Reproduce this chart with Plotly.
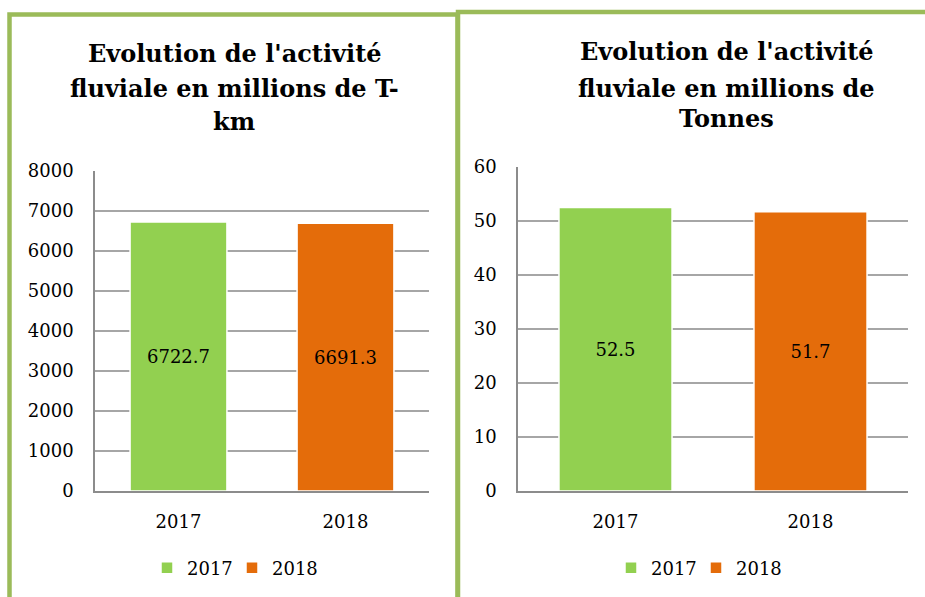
import plotly.graph_objects as go

# ---- data ----
categories = ["2017", "2018"]
tkm_values = [6722.7, 6691.3]
tonnes_values = [52.5, 51.7]
tkm_labels = ["6722.7", "6691.3"]
tonnes_labels = ["52.5", "51.7"]
bar_colors = ["#92D050", "#E46C0A"]
left_title_lines = ["Evolution de l'activité", "fluviale en millions de T-", "km"]
right_title_lines = ["Evolution de l'activité", "fluviale en millions de", "Tonnes"]
left_ticks = [0, 1000, 2000, 3000, 4000, 5000, 6000, 7000, 8000]
right_ticks = [0, 10, 20, 30, 40, 50, 60]

W, H = 925, 597
def px(x):
    return x / W
def py(y):
    return 1 - y / H

SERIF = "DejaVu Serif"
GRID = "#A6A6A6"
AXIS = "#8C8C8C"
BORDER = "#9BBB59"

fig = go.Figure()

for i, cat in enumerate(categories):
    fig.add_trace(go.Bar(
        x=[cat], y=[tkm_values[i]], name=cat,
        marker=dict(color=bar_colors[i], line=dict(color="white", width=1.5)),
        width=0.58, text=[tkm_labels[i]], textposition="inside",
        insidetextanchor="middle", textangle=0,
        insidetextfont=dict(family=SERIF, size=18, color="black"),
        xaxis="x", yaxis="y", legend="legend", hoverinfo="skip",
    ))
for i, cat in enumerate(categories):
    fig.add_trace(go.Bar(
        x=[cat], y=[tonnes_values[i]], name=cat,
        marker=dict(color=bar_colors[i], line=dict(color="white", width=1.5)),
        width=0.58, text=[tonnes_labels[i]], textposition="inside",
        insidetextanchor="middle", textangle=0,
        insidetextfont=dict(family=SERIF, size=18, color="black"),
        xaxis="x2", yaxis="y2", legend="legend2", hoverinfo="skip",
    ))

xaxis_common = dict(
    type="category", showgrid=False, showline=True, linecolor=AXIS, linewidth=1.5,
    ticks="outside", ticklen=14, tickcolor="rgba(0,0,0,0)", automargin=False,
    tickfont=dict(family=SERIF, size=18, color="black"), fixedrange=True,
)
yaxis_common = dict(
    showgrid=True, gridcolor=GRID, gridwidth=1.5, showline=True, linecolor=AXIS,
    linewidth=1.5, zeroline=False, ticks="outside", ticklen=16,
    tickcolor="rgba(0,0,0,0)", automargin=False,
    tickfont=dict(family=SERIF, size=18, color="black"), fixedrange=True,
)

annotations = []
left_centers = [53, 88, 121]
right_centers = [51, 88, 118]
for line, yc in zip(left_title_lines, left_centers):
    annotations.append(dict(text="<b>" + line + "</b>", x=px(234), y=py(yc),
                            xref="paper", yref="paper", xanchor="center",
                            yanchor="middle", showarrow=False,
                            font=dict(family=SERIF, size=24, color="black")))
for line, yc in zip(right_title_lines, right_centers):
    annotations.append(dict(text="<b>" + line + "</b>", x=px(726), y=py(yc),
                            xref="paper", yref="paper", xanchor="center",
                            yanchor="middle", showarrow=False,
                            font=dict(family=SERIF, size=24, color="black")))

shapes = [
    dict(type="rect", xref="paper", yref="paper",
         x0=px(9.5), x1=px(457.5), y0=py(14.5), y1=py(640),
         line=dict(color=BORDER, width=4.5), fillcolor="rgba(0,0,0,0)", layer="above"),
    dict(type="rect", xref="paper", yref="paper",
         x0=px(458), x1=px(960), y0=py(12), y1=py(640),
         line=dict(color=BORDER, width=4.5), fillcolor="rgba(0,0,0,0)", layer="above"),
]

legend_common = dict(orientation="h", yanchor="middle", xanchor="center",
                     font=dict(family=SERIF, size=18, color="black"),
                     entrywidth=40, entrywidthmode="pixels",
                     bgcolor="rgba(0,0,0,0)", itemclick=False, itemdoubleclick=False)

fig.update_layout(
    width=W, height=H, margin=dict(l=0, r=0, t=0, b=0, autoexpand=False),
    paper_bgcolor="white", plot_bgcolor="white",
    barmode="overlay", showlegend=True,
    xaxis=dict(domain=[px(95), px(429)], anchor="y", **xaxis_common),
    yaxis=dict(domain=[py(491), py(171)], anchor="x", range=[0, 8000],
               tickvals=left_ticks, **yaxis_common),
    xaxis2=dict(domain=[px(518), px(908)], anchor="y2", **xaxis_common),
    yaxis2=dict(domain=[py(491), py(167)], anchor="x2", range=[0, 60],
                tickvals=right_ticks, **yaxis_common),
    legend=dict(x=px(232), y=py(568), **legend_common),
    legend2=dict(x=px(696), y=py(568), **legend_common),
    annotations=annotations, shapes=shapes,
    uniformtext=dict(mode=False),
)

fig.write_html("out.html", config={"displayModeBar": False},
               post_script="document.body.style.margin='0px';")
